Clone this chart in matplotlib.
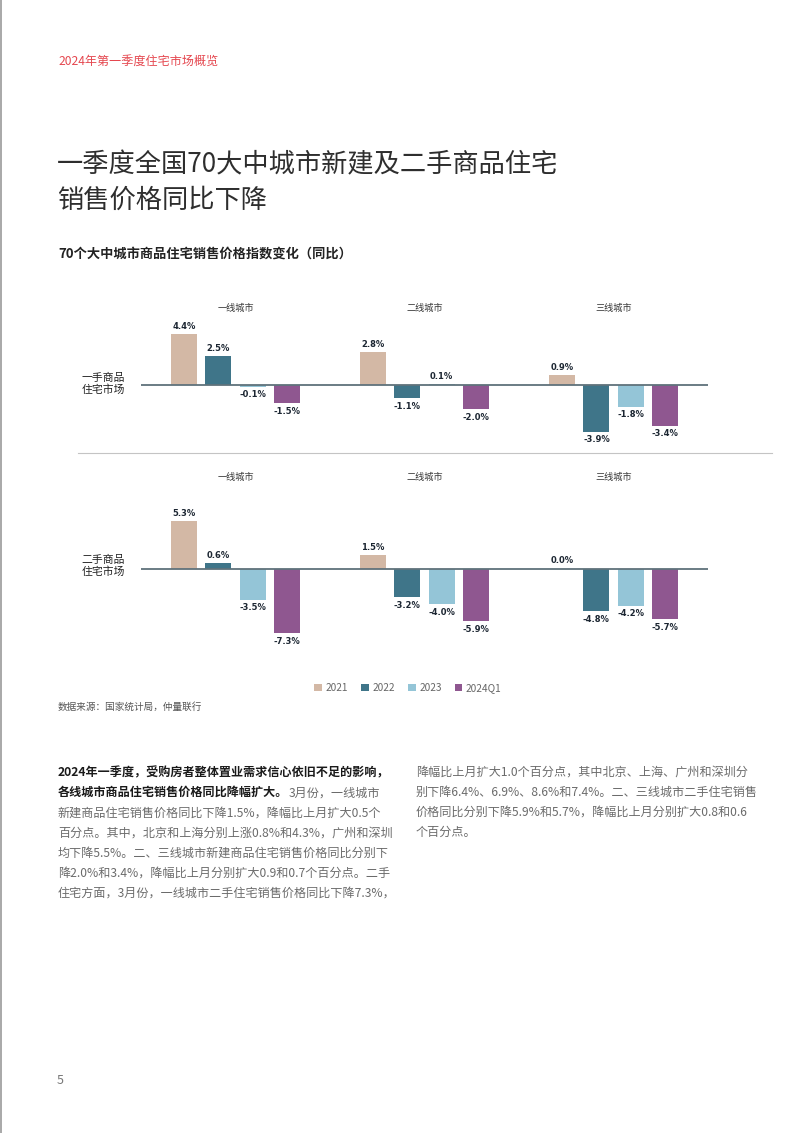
import matplotlib
matplotlib.use("Agg")
import matplotlib.pyplot as plt
import numpy as np
from matplotlib.lines import Line2D

plt.rcParams['font.family'] = ['Noto Sans CJK SC', 'DejaVu Sans']

# ---------------- data ----------------
tiers = ["一线城市", "二线城市", "三线城市"]
years = ["2021", "2022", "2023", "2024Q1"]
colors = ["#d3b8a5", "#3f7589", "#94c5d7", "#8f5790"]
row_labels = [["一手商品", "住宅市场"], ["二手商品", "住宅市场"]]
# values[series][tier]
new_home = [
    [4.4, 2.8, 0.9],
    [2.5, -1.1, -3.9],
    [-0.1, 0.1, -1.8],
    [-1.5, -2.0, -3.4],
]
resale_home = [
    [5.3, 1.5, 0.0],
    [0.6, -3.2, -4.8],
    [-3.5, -4.0, -4.2],
    [-7.3, -5.9, -5.7],
]

header = "2024年第一季度住宅市场概览"
title_lines = ["一季度全国70大中城市新建及二手商品住宅", "销售价格同比下降"]
subtitle = "70个大中城市商品住宅销售价格指数变化（同比）"
source = "数据来源：国家统计局，仲量联行"
left_par = [
    [("2024年一季度，受购房者整体置业需求信心依旧不足的影响，", True)],
    [("各线城市商品住宅销售价格同比降幅扩大。", True), ("3月份，一线城市", False)],
    [("新建商品住宅销售价格同比下降1.5%，降幅比上月扩大0.5个", False)],
    [("百分点。其中，北京和上海分别上涨0.8%和4.3%，广州和深圳", False)],
    [("均下降5.5%。二、三线城市新建商品住宅销售价格同比分别下", False)],
    [("降2.0%和3.4%，降幅比上月分别扩大0.9和0.7个百分点。二手", False)],
    [("住宅方面，3月份，一线城市二手住宅销售价格同比下降7.3%，", False)],
]
right_par = [
    "降幅比上月扩大1.0个百分点，其中北京、上海、广州和深圳分",
    "别下降6.4%、6.9%、8.6%和7.4%。二、三线城市二手住宅销售",
    "价格同比分别下降5.9%和5.7%，降幅比上月分别扩大0.8和0.6",
    "个百分点。",
]
page_no = "5"

# ---------------- figure ----------------
W, H = 802, 1133
fig = plt.figure(figsize=(W / 100, H / 100), dpi=100)
fig.patch.set_facecolor("white")


def fx(x):
    return x / W


def fy(y):
    return 1 - y / H


def ftext(x, y, s, **kw):
    return fig.text(fx(x), fy(y), s, **kw)


# page edge
fig.add_artist(Line2D([0.0008, 0.0008], [0, 1], color="#9a9a9a", lw=1.2,
                      transform=fig.transFigure))

ftext(58, 61, header, fontsize=8.7, color="#e5474f", va="center")
for i, ln in enumerate(title_lines):
    ftext(57, 165 + 35 * i, ln, fontsize=18.9, color="#2e2e2e", va="center")
ftext(58, 254, subtitle, fontsize=9.5, color="#222222", va="center",
      fontweight="bold")


def make_row(data, y_top, y_bot, y_base, pxper, title_y, lab_y):
    left, right = 141, 708
    ax = fig.add_axes([fx(left), fy(y_bot), (right - left) / W, (y_bot - y_top) / H])
    ax.set_xlim(-0.5, 2.5)
    ax.set_ylim(-(y_bot - y_base) / pxper, (y_base - y_top) / pxper)
    ax.axis("off")
    x = np.arange(len(tiers))
    width = 0.138
    step = 0.181
    offs = (np.arange(len(years)) - 1.5) * step
    handles = []
    for si, (vals, col) in enumerate(zip(data, colors)):
        b = ax.bar(x + offs[si], vals, width=width, color=col, zorder=2,
                   label=years[si])
        handles.append(b)
        for xi, v in zip(x + offs[si], vals):
            if v >= 0:
                ax.annotate(f"{v:.1f}%", (xi, v), xytext=(0, 2.2),
                            textcoords="offset points", ha="center", va="bottom",
                            fontsize=6, fontweight="bold", color="#1c2632",
                            family="DejaVu Sans")
            else:
                ax.annotate(f"{v:.1f}%", (xi, v), xytext=(0, -2.6),
                            textcoords="offset points", ha="center", va="top",
                            fontsize=6, fontweight="bold", color="#1c2632",
                            family="DejaVu Sans")
    ax.axhline(0, color="#5f727b", lw=1.3, zorder=3)
    centers = [235.5, 424.5, 613.5]
    for cx, t in zip(centers, tiers):
        ftext(cx, title_y, t, fontsize=6.6, color="#333333", ha="center", va="center")
    for j, ln in enumerate(lab_y[1]):
        ftext(103.5, lab_y[0] + 12 * j, ln, fontsize=7.8, color="#222222",
              ha="center", va="center")
    return ax, handles


ax1, handles = make_row(new_home, 315, 450, 385.5, 11.8, 308, (378, row_labels[0]))
ax2, _ = make_row(resale_home, 490, 660, 568.5, 8.9, 477, (560, row_labels[1]))

# separator
fig.add_artist(Line2D([fx(78), fx(772)], [fy(453), fy(453)], color="#c4c4c4",
                      lw=0.8, transform=fig.transFigure))

# legend
fig.legend(handles=handles, labels=years, loc="center",
           bbox_to_anchor=(fx(408), fy(688)), ncol=4, frameon=False,
           handlelength=0.75, handleheight=0.75, handletextpad=0.35,
           columnspacing=1.3, fontsize=7.3, labelcolor="#666666",
           borderaxespad=0, borderpad=0)

ftext(58, 707, source, fontsize=6.9, color="#555555", va="center")

# paragraph
renderer = fig.canvas.get_renderer()
fs_par = 8.7
for i, parts in enumerate(left_par):
    y = 772.5 + 20.1 * i
    xcur = fx(58)
    for s, bold in parts:
        t = fig.text(xcur, fy(y), s, fontsize=fs_par, va="center",
                     color="#1a1a1a" if bold else "#6b6b6b",
                     fontweight="bold" if bold else "normal")
        bb = t.get_window_extent(renderer)
        xcur = bb.x1 / W
for i, s in enumerate(right_par):
    ftext(416, 772.5 + 20 * i, s, fontsize=fs_par, color="#6b6b6b", va="center")

ftext(57, 1080, page_no, fontsize=9, color="#777777", va="center")

fig.savefig("out.png", dpi=100, facecolor="white")
